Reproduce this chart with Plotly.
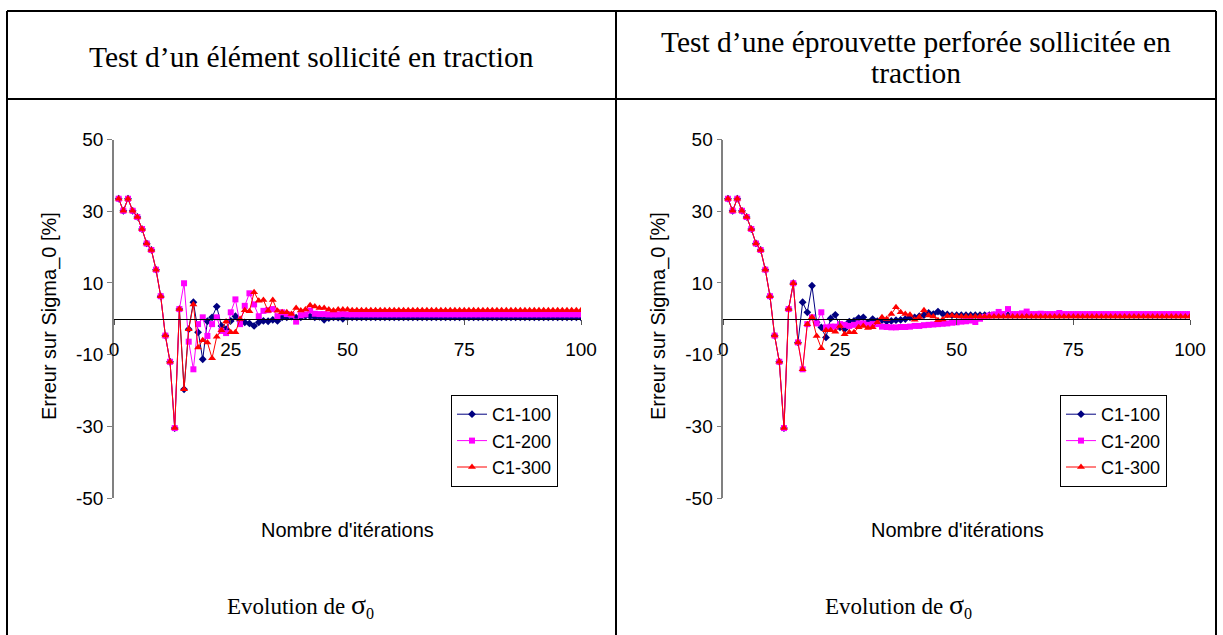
import plotly.graph_objects as go

W, H = 1223, 635

iterations = list(range(1, 101))
series_names = ["C1-100", "C1-200", "C1-300"]
series_colors = ["#000080", "#FF00FF", "#FF0000"]
series_symbols = ["diamond", "square", "triangle-up"]
series_sizes = [6, 6, 7]
y_ticks = [-50, -30, -10, 10, 30, 50]
y_ticklabels = ["-50", "-30", "-10", "10", "30", "50"]

# Test d'un élément sollicité en traction
left_c100 = [
    33.5, 30.1, 33.5, 30.1, 28.4, 25.0, 21.0, 19.2, 13.7, 6.3,
    -4.7, -12.0, -30.5, 2.7, -19.7, -2.9, 4.6, -3.8, -11.3, -0.7,
    0.4, 3.4, -2.0, -2.9, -0.6, 0.7, -0.6, -1.0, -1.3, -2.0,
    -1.0, -0.6, -0.7, -0.3, -0.6, 0.4, 0.4, 0.6, 0.3, 0.4,
    0.8, 0.7, 0.4, 0.5, -0.3, 0.2, 0.4, 0.3, 0.0, 0.4,
    0.4, 0.4, 0.4, 0.4, 0.4, 0.4, 0.4, 0.4, 0.4, 0.4,
    0.4, 0.4, 0.4, 0.4, 0.4, 0.4, 0.4, 0.4, 0.4, 0.4,
    0.4, 0.4, 0.4, 0.4, 0.4, 0.4, 0.4, 0.4, 0.4, 0.4,
    0.4, 0.4, 0.4, 0.4, 0.4, 0.4, 0.4, 0.4, 0.4, 0.4,
    0.4, 0.4, 0.4, 0.4, 0.4, 0.4, 0.4, 0.4, 0.4, 0.4,
]
left_c200 = [
    33.5, 30.1, 33.5, 30.1, 28.4, 25.0, 21.0, 19.2, 13.7, 6.3,
    -4.7, -12.0, -30.5, 2.7, 9.9, -6.4, -14.1, -1.5, 0.4, -4.8,
    -1.5, 0.4, -3.4, -4.0, 1.8, 5.4, -1.5, 3.6, 7.1, 4.0,
    0.7, 2.2, 2.4, 2.7, 0.7, 1.8, 1.3, 1.1, -0.8, 1.0,
    1.2, 2.3, 1.4, 1.3, 1.3, 1.2, 1.2, 1.2, 1.3, 1.2,
    1.2, 1.2, 1.2, 1.2, 1.2, 1.2, 1.2, 1.2, 1.2, 1.2,
    1.2, 1.2, 1.2, 1.2, 1.2, 1.2, 1.2, 1.2, 1.2, 1.2,
    1.2, 1.2, 1.2, 1.2, 1.2, 1.2, 1.2, 1.2, 1.2, 1.2,
    1.2, 1.2, 1.2, 1.2, 1.2, 1.2, 1.2, 1.2, 1.2, 1.2,
    1.2, 1.2, 1.2, 1.2, 1.2, 1.2, 1.2, 1.2, 1.2, 1.2,
]
left_c300 = [
    33.5, 30.1, 33.5, 30.1, 28.4, 25.0, 21.0, 19.2, 13.7, 6.3,
    -4.7, -12.0, -30.5, 2.7, -19.7, -2.9, 4.0, -8.0, -6.0, -6.6,
    -11.0, -5.0, -3.2, -0.8, -3.8, -3.8, -0.1, 2.4, 2.1, 7.4,
    5.0, 5.2, 2.2, 5.2, 2.2, 1.8, 1.8, 1.3, 3.0, 2.3,
    2.6, 3.8, 3.4, 3.0, 3.0, 2.6, 2.3, 2.6, 2.6, 2.6,
    2.4, 2.4, 2.4, 2.4, 2.4, 2.4, 2.4, 2.4, 2.4, 2.4,
    2.4, 2.4, 2.4, 2.4, 2.4, 2.4, 2.4, 2.4, 2.4, 2.4,
    2.4, 2.4, 2.4, 2.4, 2.4, 2.4, 2.4, 2.4, 2.4, 2.4,
    2.4, 2.4, 2.4, 2.4, 2.4, 2.4, 2.4, 2.4, 2.4, 2.4,
    2.4, 2.4, 2.4, 2.4, 2.4, 2.4, 2.4, 2.4, 2.4, 2.4,
]

# Test d'une éprouvette perforée sollicitée en traction
right_c100 = [
    33.5, 30.1, 33.5, 30.1, 28.4, 25.0, 21.0, 19.2, 13.7, 6.3,
    -4.7, -12.0, -30.5, 2.7, 9.9, -6.6, 4.6, 1.8, 9.2, -1.0,
    -2.4, -5.2, 0.1, 1.1, -2.4, -2.9, -0.8, -0.6, 0.2, 0.4,
    -1.0, -0.1, -0.7, -0.4, -0.7, -0.6, -0.4, -0.3, -0.1, 0.4,
    0.4, 0.7, 1.0, 1.6, 1.3, 2.0, 1.4, 1.2, 1.0, 1.0,
    1.0, 1.0, 1.0, 1.0, 1.0, 1.0, 1.0, 1.0, 1.0, 1.0,
    1.0, 1.0, 1.0, 1.0, 1.0, 1.0, 1.0, 1.0, 1.0, 1.0,
    1.0, 1.0, 1.0, 1.0, 1.0, 1.0, 1.0, 1.0, 1.0, 1.0,
    1.0, 1.0, 1.0, 1.0, 1.0, 1.0, 1.0, 1.0, 1.0, 1.0,
    1.0, 1.0, 1.0, 1.0, 1.0, 1.0, 1.0, 1.0, 1.0, 1.0,
]
right_c200 = [
    33.5, 30.1, 33.5, 30.1, 28.4, 25.0, 21.0, 19.2, 13.7, 6.3,
    -4.7, -12.0, -30.5, 2.7, 9.9, -6.6, -14.1, -1.5, 0.4, -1.3,
    1.8, -2.4, -2.2, -2.2, -1.5, -1.7, -2.0, -1.7, -1.3, -1.3,
    -1.7, -1.5, -1.5, -2.2, -2.3, -2.4, -2.4, -2.3, -2.3, -2.2,
    -2.0, -2.0, -1.8, -1.7, -1.6, -1.5, -1.4, -1.3, -1.1, -1.0,
    -0.8, -0.7, -0.5, -0.9, 0.0, 0.5, 0.9, 1.2, 1.9, 1.3,
    2.7, 1.3, 1.3, 1.5, 2.0, 1.3, 1.3, 1.4, 1.3, 1.3,
    1.3, 1.6, 1.3, 1.3, 1.3, 1.3, 1.3, 1.3, 1.3, 1.3,
    1.3, 1.3, 1.3, 1.3, 1.3, 1.3, 1.3, 1.3, 1.3, 1.3,
    1.3, 1.3, 1.3, 1.3, 1.3, 1.3, 1.3, 1.3, 1.3, 1.3,
]
right_c300 = [
    33.5, 30.1, 33.5, 30.1, 28.4, 25.0, 21.0, 19.2, 13.7, 6.3,
    -4.7, -12.0, -30.5, 2.7, 9.9, -6.6, -14.1, -1.5, 0.4, -4.8,
    -8.2, -3.2, -3.2, -3.6, -2.0, -4.3, -3.8, -3.8, -2.4, -2.0,
    -2.6, -2.4, -1.0, 0.4, -0.1, 1.3, 3.2, 1.8, 1.3, 1.1,
    -0.3, 0.5, 2.4, 0.9, 0.6, -0.4, -0.2, 0.8, 0.9, 0.7,
    0.6, 0.6, 0.6, 0.6, 0.6, 0.6, 0.6, 0.6, 0.6, 0.6,
    0.6, 0.6, 0.6, 0.6, 0.6, 0.6, 0.6, 0.6, 0.6, 0.6,
    0.6, 0.6, 0.6, 0.6, 0.6, 0.6, 0.6, 0.6, 0.6, 0.6,
    0.6, 0.6, 0.6, 0.6, 0.6, 0.6, 0.6, 0.6, 0.6, 0.6,
    0.6, 0.6, 0.6, 0.6, 0.6, 0.6, 0.6, 0.6, 0.6, 0.6,
]

left_title = ["Test d’un élément sollicité en traction"]
right_title = ["Test d’une éprouvette perforée sollicitée en", "traction"]
footer_text = "Evolution de <span style='font-size:28px'>σ</span><sub>0</sub>"
y_title = "Erreur sur Sigma_0 [%]"
x_title = "Nombre d'itérations"


def px(x):
    return x / W


def py(y):
    return 1 - y / H


SANS = "Liberation Sans, Arial, sans-serif"
SERIF = "Liberation Serif, Times New Roman, serif"

fig = go.Figure()

panels = [
    ("x", "y", "legend", [left_c100, left_c200, left_c300]),
    ("x2", "y2", "legend2", [right_c100, right_c200, right_c300]),
]
for xa, ya, lg, data in panels:
    for name, vals, col, sym, sz in zip(series_names, data, series_colors, series_symbols, series_sizes):
        fig.add_trace(go.Scatter(
            x=iterations, y=vals, mode="lines+markers", name=name,
            xaxis=xa, yaxis=ya, legend=lg,
            line=dict(color=col, width=1),
            marker=dict(symbol=sym, size=sz, color=col, line=dict(width=0)),
        ))

y_dom = [py(498), py(139.5)]
x_pos = (y_dom[0] + y_dom[1]) / 2
x_doms = [[px(114), px(581)], [px(723.3), px(1190)]]

axis_x = dict(range=[0, 100], tick0=0, dtick=25, showgrid=False, zeroline=False,
              showline=True, linecolor="black", linewidth=1,
              ticks="outside", ticklen=5, tickcolor="#555555",
              ticklabelstandoff=8,
              tickfont=dict(family=SANS, size=19, color="black"),
              anchor="free", position=x_pos)
axis_y = dict(range=[-50, 50], tickmode="array", tickvals=y_ticks, ticktext=y_ticklabels,
              showgrid=False, zeroline=False,
              showline=True, linecolor="#808080", linewidth=1.5,
              ticks="outside", ticklen=5, tickcolor="#808080",
              tickfont=dict(family=SANS, size=19, color="black"),
              domain=y_dom)

fig.update_layout(
    xaxis=dict(axis_x, domain=x_doms[0]),
    yaxis=dict(axis_y, anchor="x"),
    xaxis2=dict(axis_x, domain=x_doms[1]),
    yaxis2=dict(axis_y, anchor="x2"),
)

leg = dict(bgcolor="white", bordercolor="black", borderwidth=1,
           font=dict(family=SANS, size=18, color="black"),
           xanchor="left", yanchor="top", itemwidth=30, tracegroupgap=0)
fig.update_layout(
    legend=dict(leg, x=px(451), y=py(395)),
    legend2=dict(leg, x=px(1060), y=py(395)),
)

# table borders
lines = [
    (7, 11, 1216, 11), (7, 99, 1216, 99),
    (7, 11, 7, 640), (1216, 11, 1216, 640), (616, 11, 616, 640),
]
for x0, y0, x1, y1 in lines:
    fig.add_shape(type="line", xref="paper", yref="paper",
                  x0=px(x0), y0=py(y0), x1=px(x1), y1=py(y1),
                  line=dict(color="black", width=2))

ann = []
ann.append(dict(text=left_title[0], x=px(311), y=py(57), font=dict(family=SERIF, size=29.5)))
ann.append(dict(text=right_title[0], x=px(916), y=py(42), font=dict(family=SERIF, size=29.5)))
ann.append(dict(text=right_title[1], x=px(916), y=py(73), font=dict(family=SERIF, size=29.5)))
ann.append(dict(text=footer_text, x=px(300), y=py(605), font=dict(family=SERIF, size=23)))
ann.append(dict(text=footer_text, x=px(898), y=py(605), font=dict(family=SERIF, size=23)))
for cx in (347, 957):
    ann.append(dict(text=x_title, x=px(cx), y=py(530), font=dict(family=SANS, size=20)))
for cx in (49, 658):
    ann.append(dict(text=y_title, x=px(cx), y=py(316), textangle=-90,
                    font=dict(family=SANS, size=20)))
for a in ann:
    fig.add_annotation(xref="paper", yref="paper", showarrow=False,
                       xanchor="center", yanchor="middle", font_color="black", **a)

fig.update_layout(width=W, height=H,
                  margin=dict(l=0, r=0, t=0, b=0, pad=0, autoexpand=False),
                  paper_bgcolor="white", plot_bgcolor="white", showlegend=True)

# let the figure fill the page exactly (no default body margin)
fig.write_html("out.html", config={"displayModeBar": False},
               post_script="document.body.style.margin='0';document.body.style.overflow='hidden';")
